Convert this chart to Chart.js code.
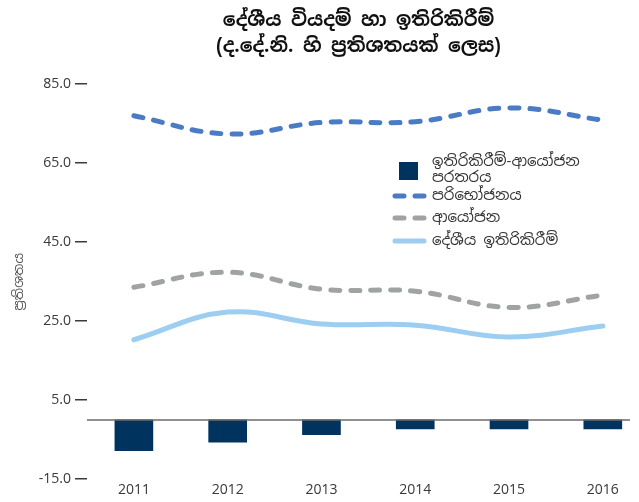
<!DOCTYPE html>
<html lang="si">
  <head>
    <meta charset="UTF-8" />
    <title>දේශීය වියදම් හා ඉතිරිකිරීම්</title>
    <script src="https://cdn.jsdelivr.net/npm/chart.js"></script>
    <style>
      html,
      body {
        margin: 0;
        padding: 0;
        background: #ffffff;
        overflow: hidden;
      }
      #wrap {
        position: relative;
        width: 639px;
        height: 502px;
      }
    </style>
  </head>
  <body>
    <div id="wrap">
      <canvas id="chart" width="639" height="502"></canvas>
    </div>

    <script>
      // data (% of GDP)
      const years = [2011, 2012, 2013, 2014, 2015, 2016];
      const gap = [-7.8, -5.6, -3.7, -2.3, -2.3, -2.3];
      const consumption = [77.0, 72.4, 75.3, 75.5, 79.0, 75.9];
      const investment = [33.6, 37.4, 33.1, 32.6, 28.5, 31.6];
      const savings = [20.3, 27.3, 24.3, 24.0, 21.0, 23.8];
      const yTicks = [-15, 5, 25, 45, 65, 85];

      const titleLines = [
        "දේශීය වියදම් හා ඉතිරිකිරීම්",
        "(ද.දේ.නි. හි ප්‍රතිශතයක් ලෙස)",
      ];
      const yTitle = "ප්‍රතිශතය";
      const seriesNames = [
        ["ඉතිරිකිරීම්-ආයෝජන", "පරතරය"],
        ["පරිභෝජනය"],
        ["ආයෝජන"],
        ["දේශීය ඉතිරිකිරීම්"],
      ];

      const FONT = "'Noto Sans Sinhala', 'Noto Sans', Lato, sans-serif";
      const NAVY = "#01335f";
      const BLUE = "#4b7bc3";
      const GREY = "#a0a3a4";
      const LIGHT = "#9dcdf0";

      const pts = (vals) => years.map((yr, i) => ({ x: yr, y: vals[i] }));

      // line through zero, drawn over the bars
      const zeroLine = {
        id: "zeroLine",
        afterDatasetsDraw(chart) {
          const { ctx, chartArea, scales } = chart;
          const py = scales.y.getPixelForValue(0);
          ctx.save();
          ctx.strokeStyle = "#6b6b6b";
          ctx.lineWidth = 1.5;
          ctx.beginPath();
          ctx.moveTo(chartArea.left, py);
          ctx.lineTo(chartArea.right, py);
          ctx.stroke();
          ctx.restore();
        },
      };

      // legend sits inside the plot, right of centre
      const insideLegend = {
        id: "insideLegend",
        afterDraw(chart) {
          const { ctx } = chart;
          const ds = chart.data.datasets;
          const x0 = 393;
          const tx = 432;
          const rows = [170, 196, 218, 241];
          ctx.save();
          ctx.font = "15px " + FONT;
          ctx.textBaseline = "middle";
          ds.forEach((d, i) => {
            const y = rows[i];
            if (d.type === "bar") {
              ctx.fillStyle = d.backgroundColor;
              ctx.fillRect(x0 + 6, y - 8, 19, 18);
            } else {
              ctx.strokeStyle = d.borderColor;
              ctx.lineWidth = d.borderWidth;
              ctx.lineCap = "round";
              ctx.setLineDash(d.borderDash || []);
              ctx.beginPath();
              ctx.moveTo(x0 + 2, y);
              ctx.lineTo(x0 + 31, y);
              ctx.stroke();
              ctx.setLineDash([]);
            }
            ctx.fillStyle = "#333333";
            const lines = seriesNames[i];
            lines.forEach((t, k) => {
              const off = (k - (lines.length - 1) / 2) * 16;
              ctx.fillText(t, tx, y + off);
            });
          });
          ctx.restore();
        },
      };

      new Chart(document.getElementById("chart"), {
        type: "bar",
        data: {
          datasets: [
            {
              type: "bar",
              data: pts(gap),
              backgroundColor: NAVY,
              barThickness: 38,
              order: 5,
            },
            {
              type: "line",
              data: pts(consumption),
              borderColor: BLUE,
              borderWidth: 5,
              borderDash: [9, 11],
              borderCapStyle: "round",
              pointRadius: 0,
              tension: 0.4,
              fill: false,
            },
            {
              type: "line",
              data: pts(investment),
              borderColor: GREY,
              borderWidth: 5,
              borderDash: [9, 11],
              borderCapStyle: "round",
              pointRadius: 0,
              tension: 0.4,
              fill: false,
            },
            {
              type: "line",
              data: pts(savings),
              borderColor: LIGHT,
              borderWidth: 5,
              borderCapStyle: "round",
              pointRadius: 0,
              tension: 0.4,
              fill: false,
            },
          ],
        },
        options: {
          responsive: false,
          animation: false,
          layout: { padding: { left: 0, right: 9, top: 0, bottom: 0 } },
          scales: {
            x: {
              type: "linear",
              offset: false,
              min: 2010.5,
              max: 2016.29,
              grid: { display: false, drawTicks: false },
              border: { display: false },
              afterBuildTicks(scale) {
                scale.ticks = years.map((v) => ({ value: v }));
              },
              ticks: {
                callback: (v) => String(v),
                color: "#3a3a3a",
                font: { family: FONT, size: 14 },
                padding: 3,
                maxRotation: 0,
              },
            },
            y: {
              min: -15,
              max: 85,
              afterBuildTicks(scale) {
                scale.ticks = yTicks.map((v) => ({ value: v }));
              },
              afterFit(scale) {
                scale.width = 87;
              },
              grid: {
                drawOnChartArea: false,
                tickLength: 12,
                tickColor: "#3a3a3a",
                lineWidth: 1.5,
              },
              border: { display: false },
              ticks: {
                callback: (v) => v.toFixed(1),
                color: "#3a3a3a",
                font: { family: FONT, size: 14 },
                padding: 4,
              },
              title: {
                display: true,
                text: yTitle,
                color: "#555555",
                font: { family: FONT, size: 13 },
                padding: { top: 12, bottom: 0 },
              },
            },
          },
          plugins: {
            legend: { display: false },
            tooltip: { enabled: false },
            title: {
              display: true,
              fullSize: false,
              text: titleLines,
              color: "#111111",
              font: { family: FONT, size: 19, weight: "bold", lineHeight: 1.4 },
              padding: { top: 7, bottom: 24 },
            },
          },
        },
        plugins: [zeroLine, insideLegend],
      });
    </script>
  </body>
</html>
